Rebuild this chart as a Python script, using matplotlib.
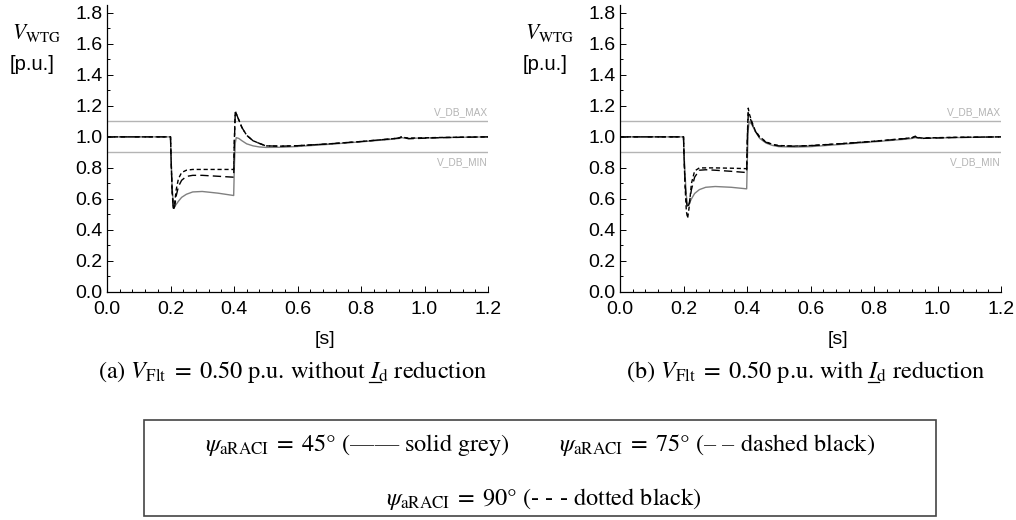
import matplotlib
matplotlib.use("Agg")
import matplotlib.pyplot as plt
from matplotlib.ticker import MultipleLocator
from matplotlib.patches import Rectangle
from matplotlib.lines import Line2D

plt.rcParams["mathtext.fontset"] = "stix"
plt.rcParams["font.family"] = ["Liberation Sans", "DejaVu Sans"]

W, H = 1016, 520

# time samples (s)
time_a = [0.00, 0.20, 0.202, 0.205, 0.209, 0.213, 0.218, 0.225, 0.235, 0.25, 0.27, 0.30,
          0.35, 0.399, 0.401, 0.404, 0.407, 0.415, 0.425, 0.44, 0.46, 0.48, 0.50, 0.55,
          0.60, 0.70, 0.80, 0.90, 0.92, 0.93, 0.935, 0.95, 0.98, 1.05, 1.20]
time_b = time_a

# (a) without Id reduction
grey_a = [1.00, 1.00, 0.85, 0.68, 0.56, 0.55, 0.565, 0.585, 0.61, 0.63, 0.645, 0.648,
          0.637, 0.622, 0.80, 0.96, 0.995, 0.99, 0.975, 0.955, 0.942, 0.935, 0.932, 0.933,
          0.938, 0.952, 0.968, 0.985, 0.99, 0.995, 0.992, 0.99, 0.992, 0.995, 1.00]
dash_a = [1.00, 1.00, 0.85, 0.65, 0.53, 0.55, 0.62, 0.68, 0.72, 0.745, 0.752, 0.752,
          0.746, 0.740, 0.95, 1.16, 1.15, 1.11, 1.06, 1.01, 0.975, 0.958, 0.942, 0.940,
          0.943, 0.955, 0.970, 0.988, 0.993, 1.002, 0.995, 0.988, 0.990, 0.995, 1.00]
dot_a = [1.00, 1.00, 0.85, 0.66, 0.54, 0.57, 0.66, 0.73, 0.77, 0.785, 0.79, 0.79,
         0.79, 0.79, 0.97, 1.17, 1.15, 1.11, 1.06, 1.01, 0.975, 0.958, 0.942, 0.940,
         0.943, 0.955, 0.970, 0.988, 0.993, 1.002, 0.996, 0.992, 0.993, 0.996, 1.00]

# (b) with Id reduction
grey_b = [1.00, 1.00, 0.88, 0.75, 0.62, 0.56, 0.57, 0.60, 0.635, 0.66, 0.675, 0.68,
          0.675, 0.665, 0.85, 1.05, 1.10, 1.08, 1.04, 0.99, 0.96, 0.945, 0.937, 0.934,
          0.937, 0.952, 0.968, 0.985, 0.99, 0.995, 0.993, 0.99, 0.992, 0.995, 1.00]
dash_b = [1.00, 1.00, 0.86, 0.70, 0.58, 0.54, 0.57, 0.66, 0.74, 0.785, 0.788, 0.785,
          0.778, 0.770, 0.98, 1.15, 1.14, 1.09, 1.04, 0.995, 0.965, 0.95, 0.942, 0.94,
          0.943, 0.956, 0.971, 0.989, 0.994, 1.003, 0.996, 0.99, 0.992, 0.996, 1.00]
dot_b = [1.00, 1.00, 0.85, 0.68, 0.52, 0.475, 0.55, 0.70, 0.78, 0.80, 0.80, 0.80,
         0.798, 0.795, 1.00, 1.185, 1.15, 1.10, 1.045, 1.00, 0.968, 0.952, 0.944, 0.941,
         0.944, 0.957, 0.972, 0.99, 0.995, 1.004, 0.997, 0.993, 0.994, 0.997, 1.00]

v_db_max = 1.1
v_db_min = 0.9
x_ticks = [0.0, 0.2, 0.4, 0.6, 0.8, 1.0, 1.2]
y_ticks = [0.0, 0.2, 0.4, 0.6, 0.8, 1.0, 1.2, 1.4, 1.6, 1.8]

caption_heads = [r"(a) $V_{\mathrm{Flt}}\;=\;0.50$ p.u. without ",
                 r"(b) $V_{\mathrm{Flt}}\;=\;0.50$ p.u. with "]
caption_tail = r"$I_{\mathrm{d}}$ reduction"


def fx(x):
    return x / W


def fy(y):
    return 1 - y / H


fig = plt.figure(figsize=(W / 100, H / 100), dpi=100)
renderer = fig.canvas.get_renderer()
serif = "STIXGeneral"
cap_size = 17.5


def text_width(s):
    t = fig.text(0, 0, s, fontsize=cap_size, family=serif)
    w = t.get_window_extent(renderer).width
    t.remove()
    return w


def caption(cx, y, head):
    """Caption centred at pixel cx with the current symbol I underlined."""
    full = head + caption_tail
    left = cx - text_width(full) / 2
    fig.text(fx(left), fy(y), full, fontsize=cap_size, family=serif,
             ha="left", va="baseline")
    i_end = left + text_width(head + r"$I$")
    i_w = text_width(r"$I$")
    fig.add_artist(Line2D([fx(i_end - i_w - 1), fx(i_end - 1)], [fy(y + 4), fy(y + 4)],
                          transform=fig.transFigure, color="black", lw=0.9))


panels = [(107, time_a, grey_a, dash_a, dot_a), (620, time_b, grey_b, dash_b, dot_b)]

for i, (x0, t, g, d, p) in enumerate(panels):
    ax = fig.add_axes([fx(x0), fy(292), 381 / W, (292 - 5) / H])
    ax.set_xlim(0, 1.2)
    ax.set_ylim(0, 1.85)
    for s in ("top", "right"):
        ax.spines[s].set_visible(False)
    for s in ("left", "bottom"):
        ax.spines[s].set_linewidth(0.9)
    ax.set_xticks(x_ticks)
    ax.set_yticks(y_ticks)
    ax.set_xticklabels([f"{v:.1f}" for v in x_ticks])
    ax.set_yticklabels([f"{v:.1f}" for v in y_ticks])
    ax.xaxis.set_minor_locator(MultipleLocator(0.04))
    ax.yaxis.set_minor_locator(MultipleLocator(0.1))
    ax.tick_params(which="both", direction="in", width=0.7, labelsize=14)
    ax.tick_params(which="major", length=4)
    ax.tick_params(which="minor", length=2.2)
    ax.tick_params(axis="x", pad=6.5)
    ax.tick_params(axis="y", pad=3)

    ax.axhline(v_db_max, color="#b4b4b4", lw=1.0)
    ax.axhline(v_db_min, color="#b4b4b4", lw=1.0)
    ax.text(1.2, v_db_max + 0.03, "V_DB_MAX", color="#b4b4b4", fontsize=7.3,
            ha="right", va="bottom")
    ax.text(1.2, v_db_min - 0.03, "V_DB_MIN", color="#b4b4b4", fontsize=7.3,
            ha="right", va="top")

    ax.plot(t, g, color="#808080", lw=1.0)
    ax.plot(t, d, color="black", lw=1.0, dashes=(6, 3))
    ax.plot(t, p, color="black", lw=1.0, dashes=(3, 2))

    lx = x0 - 95
    fig.text(fx(lx), fy(33), r"$V_{\mathrm{WTG}}$", fontsize=15.5, ha="left", va="center")
    fig.text(fx(lx - 2), fy(65), "[p.u.]", fontsize=14.5, ha="left", va="center")
    fig.text(fx(x0 + 218), fy(340), "[s]", fontsize=14, ha="center", va="center")
    caption(x0 + 186, 378, caption_heads[i])

# legend box
fig.add_artist(Rectangle((fx(144), fy(516)), (936 - 144) / W, (516 - 420) / H,
                         transform=fig.transFigure, fill=False, edgecolor="#444444", lw=1.2))
fig.text(fx(205), fy(445), r"$\psi_{\mathrm{aRACI}}\;=\;45°$ (—— solid grey)",
         fontsize=cap_size, family=serif, ha="left", va="center")
fig.text(fx(875), fy(445), r"$\psi_{\mathrm{aRACI}}\;=\;75°$ (– – dashed black)",
         fontsize=cap_size, family=serif, ha="right", va="center")
fig.text(fx(544), fy(499), r"$\psi_{\mathrm{aRACI}}\;=\;90°$ (- - - dotted black)",
         fontsize=cap_size, family=serif, ha="center", va="center")

fig.savefig("out.png", dpi=100)
